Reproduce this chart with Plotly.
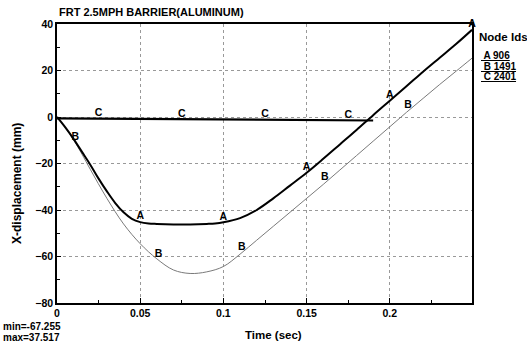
import numpy as np
import plotly.graph_objects as go

# ---- data ----
title = "FRT 2.5MPH BARRIER(ALUMINUM)"
t_a = [0, 0.005, 0.01, 0.015, 0.02, 0.025, 0.03, 0.035, 0.04, 0.045, 0.05, 0.055, 0.06, 0.07,
       0.08, 0.09, 0.095, 0.1, 0.11, 0.12, 0.13, 0.14, 0.15, 0.16, 0.17, 0.18, 0.19, 0.2,
       0.21, 0.22, 0.23, 0.24, 0.2494]
y_a = [0, -4.5, -9.5, -15, -20.5, -26.5, -32, -37, -41, -43.8, -45.2, -45.8, -46, -46.2,
       -46.2, -46, -45.8, -45.3, -43.5, -40, -35, -29.5, -24, -18, -11.8, -5.6, 0.8, 7,
       13.2, 19.5, 25.5, 31.5, 37.5]
t_b = [0, 0.005, 0.01, 0.015, 0.02, 0.03, 0.04, 0.05, 0.06, 0.07, 0.08, 0.09, 0.1, 0.11,
       0.12, 0.13, 0.14, 0.15, 0.16, 0.17, 0.18, 0.19, 0.2, 0.21, 0.22, 0.23, 0.24, 0.2494]
y_b = [0, -4.6, -9.8, -16, -22.5, -35, -46, -54.5, -61, -65.8, -67.3, -66.6, -64.3, -59,
       -53, -47, -41, -35, -29, -22.8, -16.6, -10.4, -4.2, 2, 8, 14, 19.8, 25.3]
t_c = [0, 0.05, 0.1, 0.15, 0.19]
y_c = [-0.6, -0.8, -1.1, -1.4, -1.5]
mark_a = [0.05, 0.1, 0.15, 0.2, 0.2494]
mark_b = [0.011, 0.061, 0.111, 0.161, 0.211]
mark_c = [0.025, 0.075, 0.125, 0.175]
legend_labels = ["A 906", "B 1491", "C 2401"]
x_ticks = [0, 0.05, 0.1, 0.15, 0.2]
x_tick_text = ["0", "0.05", "0.1", "0.15", "0.2"]
y_ticks = [40, 20, 0, -20, -40, -60, -80]
min_text = "min=-67.255"
max_text = "max=37.517"

FONT = "Liberation Sans"
W, H = 527, 345
ML, MR, MT, MB = 57, 55, 24, 42
fig = go.Figure()

fig.add_trace(go.Scatter(x=t_b, y=y_b, mode="lines", line=dict(color="#7a7a7a", width=1, shape="spline"),
                         hoverinfo="skip"))
fig.add_trace(go.Scatter(x=t_c, y=y_c, mode="lines", line=dict(color="black", width=2.2),
                         hoverinfo="skip"))
fig.add_trace(go.Scatter(x=t_a, y=y_a, mode="lines", line=dict(color="black", width=2, shape="spline"),
                         hoverinfo="skip"))

for lab, mt, tt, yy in [("A", mark_a, t_a, y_a), ("B", mark_b, t_b, y_b), ("C", mark_c, t_c, y_c)]:
    my = list(np.interp(mt, tt, yy))
    fig.add_trace(go.Scatter(x=mt, y=my, mode="text", text=["<b>" + lab + "</b>"] * len(mt),
                             textposition="top center",
                             textfont=dict(family=FONT, size=10.5, color="#000000"),
                             hoverinfo="skip", cliponaxis=False))

fig.update_layout(
    width=W, height=H,
    margin=dict(l=ML, r=MR, t=MT, b=MB),
    paper_bgcolor="white", plot_bgcolor="white",
    showlegend=False,
    font=dict(family=FONT, size=9, color="black"),
)
fig.update_xaxes(range=[0, 0.2494], tickvals=x_ticks, ticktext=x_tick_text,
                 showgrid=True, gridcolor="#999999", griddash="dot", gridwidth=1,
                 showline=True, linecolor="black", linewidth=1.5, mirror=True,
                 ticks="inside", ticklen=5, tickcolor="black",
                 minor=dict(dtick=0.025, ticks="inside", ticklen=3, tickcolor="black", showgrid=False),
                 tickfont=dict(family=FONT, size=10.5, color="black", weight="bold"),
                 zeroline=False)
fig.update_yaxes(range=[-80, 40], tickvals=y_ticks,
                 showgrid=True, gridcolor="#999999", griddash="dot", gridwidth=1,
                 showline=True, linecolor="black", linewidth=1.5, mirror=True,
                 ticks="inside", ticklen=4, tickcolor="black",
                 minor=dict(dtick=10, ticks="inside", ticklen=3, tickcolor="black", showgrid=False),
                 tickfont=dict(family=FONT, size=10.5, color="black", weight="bold"),
                 zeroline=False)


def add_text(text, px, py, size, xanchor="left", angle=0):
    fig.add_annotation(xref="paper", yref="paper", showarrow=False,
                       x=(px - ML) / (W - ML - MR), y=1 - (py - MT) / (H - MT - MB),
                       xanchor=xanchor, yanchor="middle", textangle=angle,
                       text="<b>" + text + "</b>",
                       font=dict(family=FONT, color="black", size=size))


add_text(title, 57, 12, 11)
add_text("X-displacement (mm)", 17, 184, 12, xanchor="center", angle=-90)
add_text("Time (sec)", 273, 335, 11.5, xanchor="center")
add_text(min_text, 1, 326, 10)
add_text(max_text, 1, 337, 10)
add_text("Node Ids", 477, 37, 11.5)
for i, lab in enumerate(legend_labels):
    add_text("<u> " + lab + "</u>", 479, 56 + 10 * i, 10)

fig.write_html("out.html")
